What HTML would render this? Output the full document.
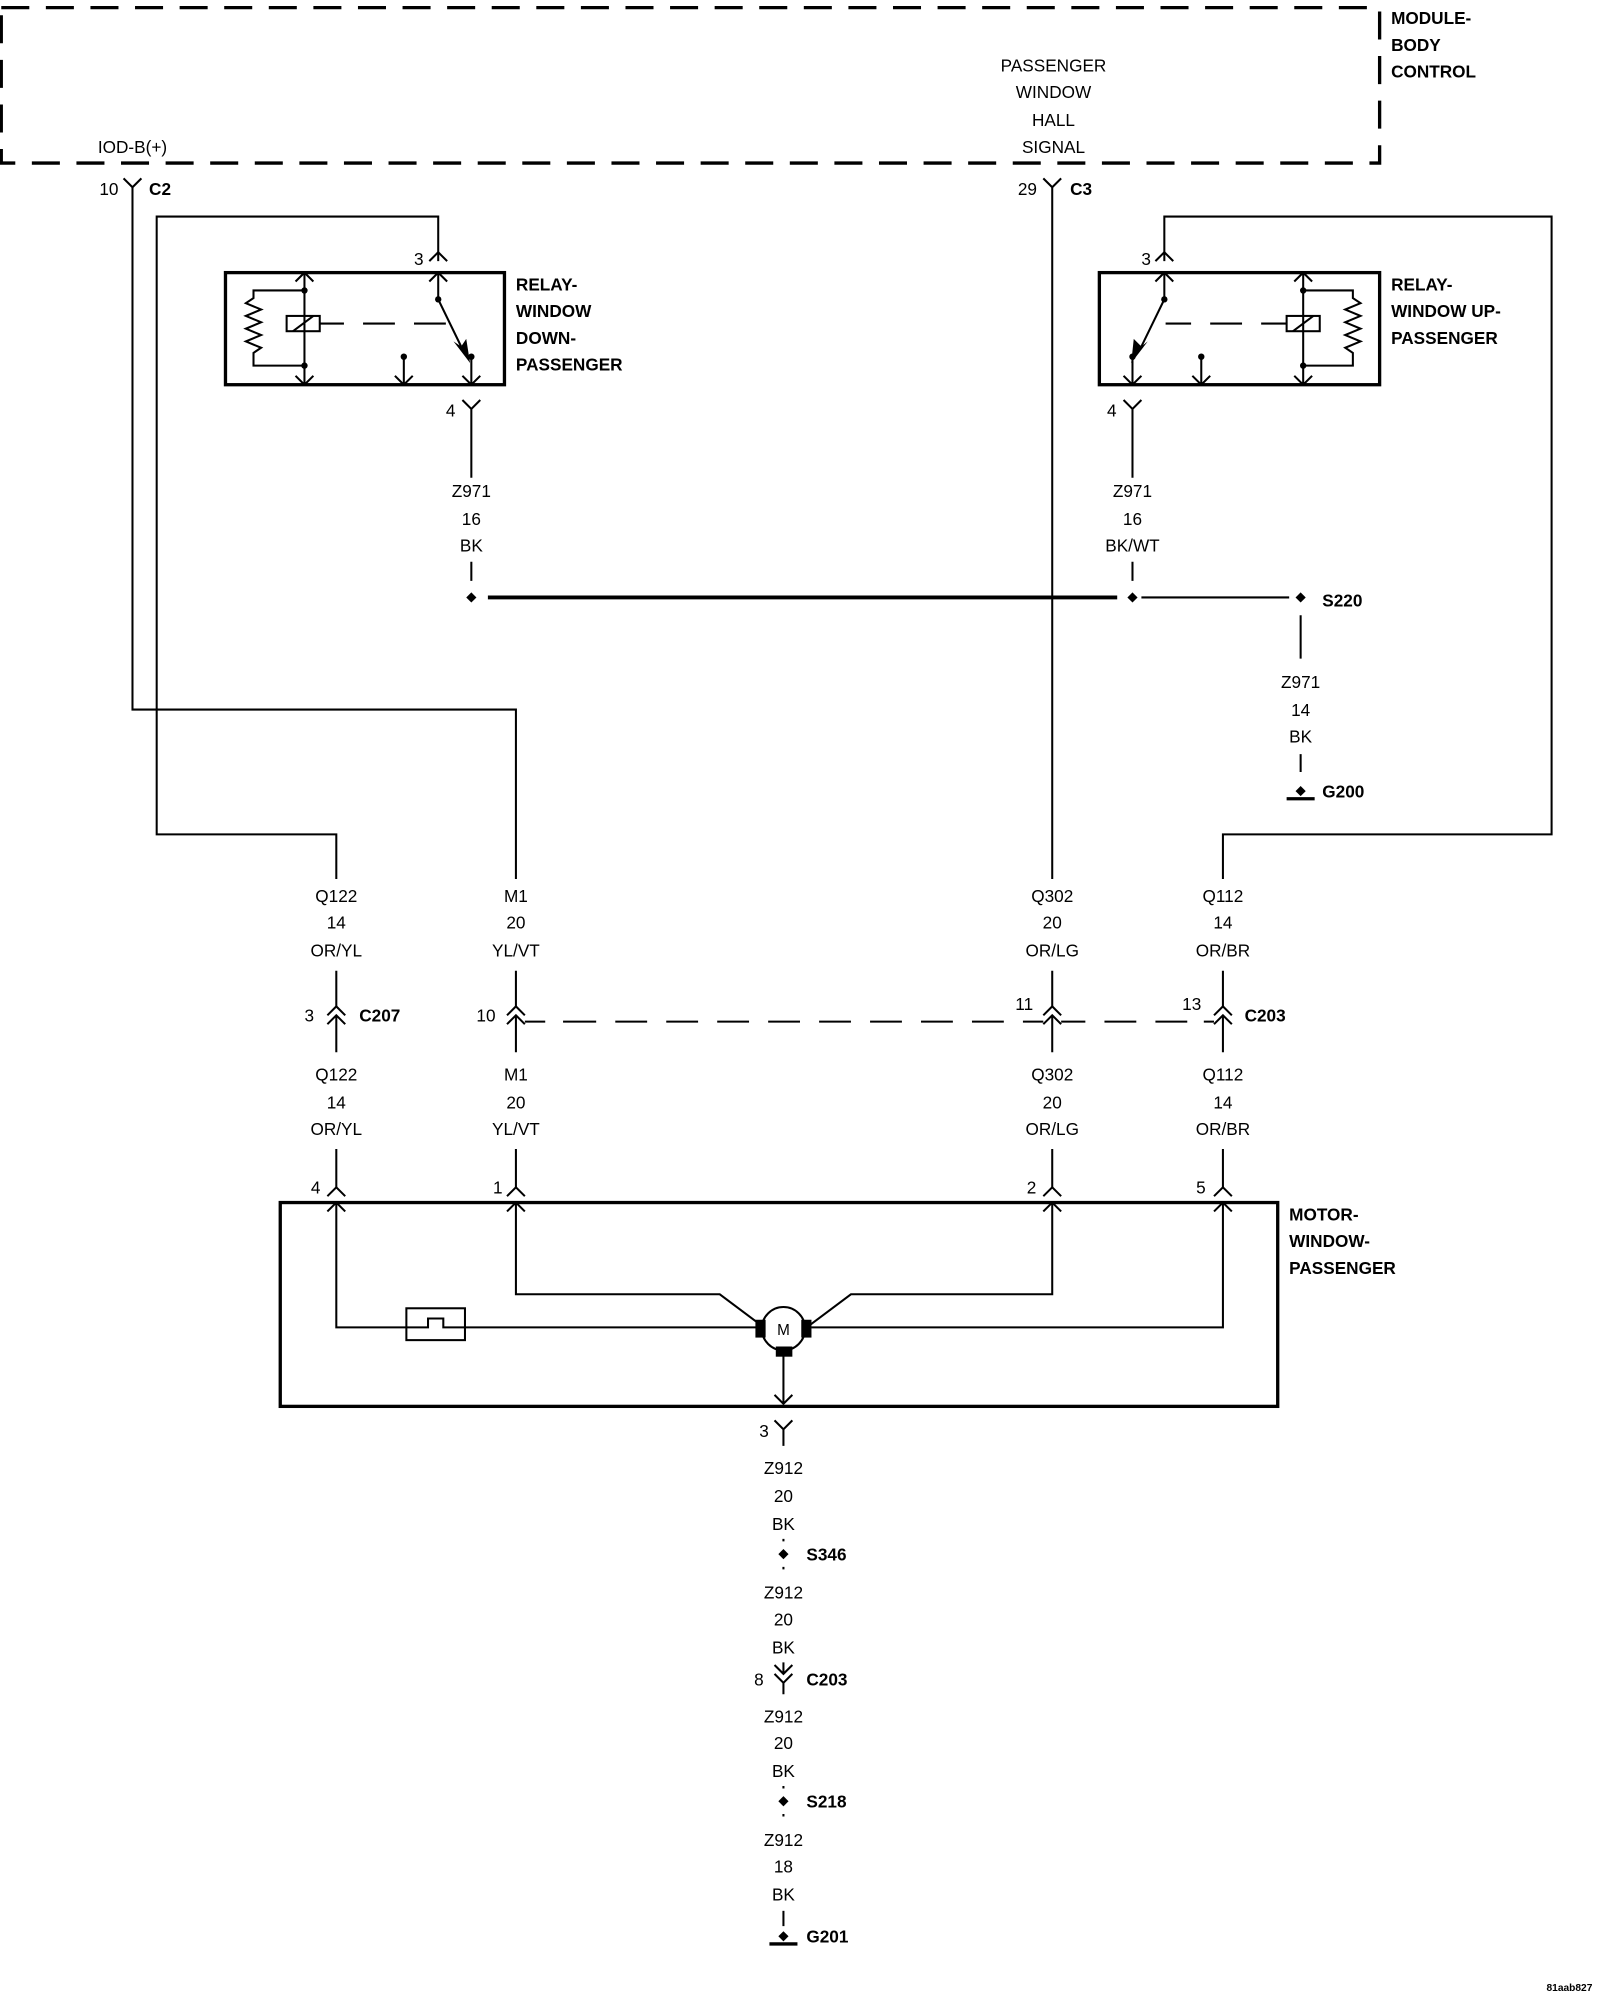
<!DOCTYPE html>
<html><head><meta charset="utf-8"><style>
html,body{margin:0;padding:0;background:#fff;}
svg{display:block;}
text{font-family:"Liberation Sans",Arial,sans-serif;font-size:13.5px;fill:#000;}
.b{font-weight:bold;}
</style></head><body>
<svg width="1600" height="2000" viewBox="0 0 1256 1570" preserveAspectRatio="none" xmlns="http://www.w3.org/2000/svg">
<g fill="none" stroke="#000" stroke-width="1.6">
<path d="M1,6 H1083 V128 H1 Z" stroke-width="2.6" stroke-dasharray="22,13"/>
<path d="M97,140 L104,147 L111,140 M104,147 V557 H405 V690"/>
<path d="M819,140 L826,147 L833,140 M826,147 V690"/>
<path d="M264,690 V655 H123 V170 H344 V205"/>
<path d="M337,205 L344,198 L351,205"/>
<path d="M914,205 V170 H1218 V655 H960 V690"/>
<path d="M907,205 L914,198 L921,205"/>
<rect x="177" y="214" width="219" height="88" stroke-width="2.6"/>
<path d="M239,214 V302 M232,221 L239,214 L246,221 M232,295 L239,302 L246,295"/>
<path d="M239,228 H199 V234 L193,238 L205,243 L193,248 L205,253 L193,258 L205,263 L193,268 L205,273 L199,277 V287 H239"/>
<rect x="225" y="248" width="26" height="12"/>
<path d="M230,260 L246,248"/>
<path d="M251,254 H270 M285,254 H310 M325,254 H350"/>
<path d="M344,214 V235 L362,272"/>
<path d="M337,221 L344,214 L351,221"/>
<path d="M370,280 V302 M363,295 L370,302 L377,295"/>
<path d="M317,280 V302 M310,295 L317,302 L324,295"/>
<path d="M363,314 L370,321 L377,314 M370,321 V375"/>
<rect x="863" y="214" width="220" height="88" stroke-width="2.6"/>
<path d="M1023,214 V302 M1016,221 L1023,214 L1030,221 M1016,295 L1023,302 L1030,295"/>
<path d="M1023,228 H1062 V234 L1068,238 L1056,243 L1068,248 L1056,253 L1068,258 L1056,263 L1068,268 L1056,273 L1062,277 V287 H1023"/>
<rect x="1010" y="248" width="26" height="12"/>
<path d="M1015,260 L1031,248"/>
<path d="M1010,254 H990 M975,254 H950 M935,254 H915"/>
<path d="M914,214 V235 L896,272"/>
<path d="M907,221 L914,214 L921,221"/>
<path d="M889,280 V302 M882,295 L889,302 L896,295"/>
<path d="M943,280 V302 M936,295 L943,302 L950,295"/>
<path d="M882,314 L889,321 L896,314 M889,321 V375"/>
<path d="M370,441 V456 M889,441 V456"/>
<path d="M383,469 H877" stroke-width="3"/>
<path d="M896,469 H1012"/>
<path d="M1021,483 V517 M1021,592 V606"/>
<path d="M1010,627 H1032" stroke-width="2.6"/>
<path d="M264,762 V790 M405,762 V790 M826,762 V790 M960,762 V790"/>
<path d="M257,797 L264,790 L271,797 M257,804 L264,797 L271,804 M264,797 V826"/>
<path d="M398,797 L405,790 L412,797 M398,804 L405,797 L412,804 M405,797 V826"/>
<path d="M819,797 L826,790 L833,797 M819,804 L826,797 L833,804 M826,797 V826"/>
<path d="M953,797 L960,790 L967,797 M953,804 L960,797 L967,804 M960,797 V826"/>
<path d="M412,802 H428 M442,802 H468 M483,802 H508 M523,802 H548 M563,802 H588 M603,802 H628 M643,802 H668 M683,802 H708 M723,802 H748 M763,802 H788 M803,802 H819 M833,802 H852 M867,802 H892 M907,802 H932 M945,802 H953"/>
<path d="M264,902 V932 M405,902 V932 M826,902 V932 M960,902 V932"/>
<path d="M257,939 L264,932 L271,939 M398,939 L405,932 L412,939 M819,939 L826,932 L833,939 M953,939 L960,932 L967,939"/>
<rect x="220" y="944" width="783" height="160" stroke-width="2.6"/>
<path d="M264,944 V1042 H319 M257,951 L264,944 L271,951"/>
<rect x="319" y="1027" width="46" height="25"/>
<path d="M319,1042 H336 V1035 H348 V1042 H365"/>
<path d="M365,1042 H595"/>
<path d="M405,944 V1016 H565 L597,1040 M398,951 L405,944 L412,951"/>
<path d="M960,944 V1042 H637 M953,951 L960,944 L967,951"/>
<path d="M826,944 V1016 H668 L636,1040 M819,951 L826,944 L833,951"/>
<circle cx="615" cy="1043" r="17" fill="#fff"/>
<path d="M615,1062 V1102 M608,1095 L615,1102 L622,1095"/>
<path d="M608,1115 L615,1122 L622,1115 M615,1122 V1135"/>
<path d="M615,1208 V1210 M615,1230 V1232"/>
<path d="M608,1307 L615,1314 L622,1307 M608,1314 L615,1321 L622,1314 M615,1305 V1314 M615,1321 V1330"/>
<path d="M615,1402 V1404 M615,1424 V1426"/>
<path d="M615,1500 V1512"/>
<path d="M604,1526 H626" stroke-width="2.6"/>
</g>
<g fill="#000">
<circle cx="239" cy="228" r="2.5"/><circle cx="239" cy="287" r="2.5"/>
<circle cx="344" cy="235" r="2.5"/><circle cx="370" cy="280" r="2.5"/><circle cx="317" cy="280" r="2.5"/>
<path d="M362,272 L356,268 L369,285 L366,266 Z"/>
<circle cx="1023" cy="228" r="2.5"/><circle cx="1023" cy="287" r="2.5"/>
<circle cx="914" cy="235" r="2.5"/><circle cx="889" cy="280" r="2.5"/><circle cx="943" cy="280" r="2.5"/>
<path d="M896,272 L890,266 L888,285 L901,268 Z"/>
<path d="M370,465 L374,469 L370,473 L366,469 Z"/>
<path d="M889,465 L893,469 L889,473 L885,469 Z"/>
<path d="M1021,465 L1025,469 L1021,473 L1017,469 Z"/>
<path d="M1021,617 L1025,621 L1021,625 L1017,621 Z"/>
<rect x="593" y="1036" width="8" height="14"/><rect x="629" y="1036" width="8" height="14"/>
<rect x="609" y="1057" width="13" height="8"/>
<path d="M615,1216 L619,1220 L615,1224 L611,1220 Z"/>
<path d="M615,1410 L619,1414 L615,1418 L611,1414 Z"/>
<path d="M615,1516 L619,1520 L615,1524 L611,1520 Z"/>
</g>
<text x="615" y="1048" text-anchor="middle" style="font-size:12px">M</text>
<text x="1092" y="19" class="b">MODULE-</text>
<text x="1092" y="40" class="b">BODY</text>
<text x="1092" y="61" class="b">CONTROL</text>
<g text-anchor="middle">
<text x="827" y="56">PASSENGER</text>
<text x="827" y="77">WINDOW</text>
<text x="827" y="99">HALL</text>
<text x="827" y="120">SIGNAL</text>
<text x="104" y="120">IOD-B(+)</text>
</g>
<text x="78" y="153">10</text><text x="117" y="153" class="b">C2</text>
<text x="799" y="153">29</text><text x="840" y="153" class="b">C3</text>
<text x="325" y="208">3</text><text x="896" y="208">3</text>
<text x="350" y="327">4</text><text x="869" y="327">4</text>
<text x="405" y="228" class="b">RELAY-</text>
<text x="405" y="249" class="b">WINDOW</text>
<text x="405" y="270" class="b">DOWN-</text>
<text x="405" y="291" class="b">PASSENGER</text>
<text x="1092" y="228" class="b">RELAY-</text>
<text x="1092" y="249" class="b">WINDOW UP-</text>
<text x="1092" y="270" class="b">PASSENGER</text>
<g text-anchor="middle">
<text x="370" y="390">Z971</text><text x="370" y="412">16</text><text x="370" y="433">BK</text>
<text x="889" y="390">Z971</text><text x="889" y="412">16</text><text x="889" y="433">BK/WT</text>
<text x="1021" y="540">Z971</text><text x="1021" y="562">14</text><text x="1021" y="583">BK</text>
<text x="264" y="708">Q122</text><text x="264" y="729">14</text><text x="264" y="751">OR/YL</text>
<text x="405" y="708">M1</text><text x="405" y="729">20</text><text x="405" y="751">YL/VT</text>
<text x="826" y="708">Q302</text><text x="826" y="729">20</text><text x="826" y="751">OR/LG</text>
<text x="960" y="708">Q112</text><text x="960" y="729">14</text><text x="960" y="751">OR/BR</text>
<text x="264" y="848">Q122</text><text x="264" y="870">14</text><text x="264" y="891">OR/YL</text>
<text x="405" y="848">M1</text><text x="405" y="870">20</text><text x="405" y="891">YL/VT</text>
<text x="826" y="848">Q302</text><text x="826" y="870">20</text><text x="826" y="891">OR/LG</text>
<text x="960" y="848">Q112</text><text x="960" y="870">14</text><text x="960" y="891">OR/BR</text>
<text x="615" y="1157">Z912</text><text x="615" y="1179">20</text><text x="615" y="1201">BK</text>
<text x="615" y="1255">Z912</text><text x="615" y="1276">20</text><text x="615" y="1298">BK</text>
<text x="615" y="1352">Z912</text><text x="615" y="1373">20</text><text x="615" y="1395">BK</text>
<text x="615" y="1449">Z912</text><text x="615" y="1470">18</text><text x="615" y="1492">BK</text>
</g>
<text x="1038" y="476" class="b">S220</text>
<text x="1038" y="626" class="b">G200</text>
<text x="239" y="802">3</text><text x="282" y="802" class="b">C207</text>
<text x="374" y="802">10</text>
<text x="797" y="793">11</text>
<text x="928" y="793">13</text><text x="977" y="802" class="b">C203</text>
<text x="244" y="937">4</text><text x="387" y="937">1</text><text x="806" y="937">2</text><text x="939" y="937">5</text>
<text x="1012" y="958" class="b">MOTOR-</text>
<text x="1012" y="979" class="b">WINDOW-</text>
<text x="1012" y="1000" class="b">PASSENGER</text>
<text x="596" y="1128">3</text>
<text x="633" y="1225" class="b">S346</text>
<text x="592" y="1323">8</text><text x="633" y="1323" class="b">C203</text>
<text x="633" y="1419" class="b">S218</text>
<text x="633" y="1525" class="b">G201</text>
<text x="1214" y="1563" class="b" style="font-size:8px">81aab827</text>
</svg>
</body></html>
